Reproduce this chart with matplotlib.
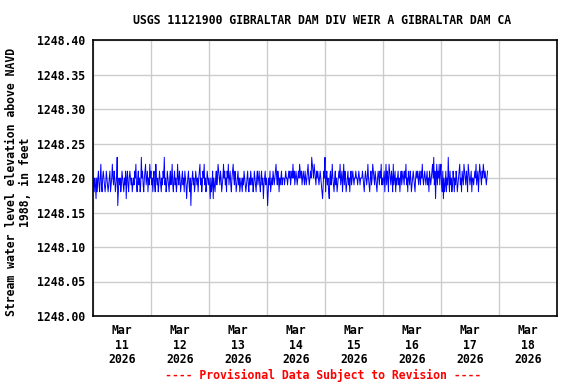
import numpy as np
import pandas as pd
import matplotlib
matplotlib.use('Agg')
import matplotlib.pyplot as plt

# gage height, hundredths of a foot above 1248.00, 15-minute values per day
mar11 = [20,19,18,20,19,17,20,18,20,21,19,18, 20,22,19,18,20,21,20,19,18,19,21,20,
         19,18,19,20,21,18,19,20,22,20,19,21, 20,18,19,20,23,16,18,20,19,20,18,19,
         21,20,19,18,20,19,21,17,20,21,19,18, 20,21,20,19,20,18,19,20,19,21,20,22,
         19,18,20,21,19,20,18,19,23,20,21,19, 18,20,21,22,19,20,21,18,20,19,22,20]
mar12 = [21,19,20,18,20,21,19,18,22,20,19,20, 18,19,21,20,19,18,20,19,21,20,23,19,
         20,18,19,21,20,19,18,20,21,19,20,22, 19,18,20,21,19,20,18,19,22,20,19,21,
         20,18,19,20,21,19,20,18,21,20,19,17, 19,20,21,19,18,20,16,19,20,21,19,20,
         18,19,21,20,19,20,18,20,21,22,19,20, 18,19,21,20,22,19,20,18,19,21,20,19]
mar13 = [20,19,17,20,18,19,21,17,20,19,18,20, 21,19,20,22,21,20,19,21,20,18,19,20,
         22,20,21,19,20,18,21,20,22,19,20,21, 19,18,20,21,22,20,19,21,20,18,19,20,
         21,19,20,18,19,20,19,18,20,19,21,20, 19,18,19,20,21,19,18,20,19,21,20,19,
         20,18,19,21,20,19,18,20,21,19,20,21, 19,18,20,21,19,20,17,19,20,21,19,20]
mar14 = [19,16,18,20,19,21,18,19,20,19,21,20, 19,20,21,22,20,19,21,20,18,20,19,20,
         21,19,20,20,20,19,20,21,20,20,19,20, 21,20,21,19,20,21,20,22,20,21,19,20,
         21,20,19,20,21,20,22,21,20,21,19,20, 21,20,19,21,20,19,20,21,22,20,19,20,
         21,20,23,22,21,20,22,21,20,19,21,20, 21,20,19,20,21,20,19,18,17,19,21,20]
mar15 = [23,18,20,21,19,20,18,17,20,21,19,20, 22,20,19,18,20,21,19,20,18,19,20,21,
         20,22,19,20,21,18,20,22,19,21,20,18, 19,20,21,19,20,18,20,21,19,20,21,20,
         19,20,20,21,20,20,19,20,21,20,19,20, 20,20,21,20,19,18,20,21,20,19,20,22,
         20,19,18,20,21,19,20,22,21,20,19,21, 20,19,18,20,21,20,19,21,20,22,19,20]
mar16 = [19,20,21,18,20,22,19,21,20,18,22,21, 20,19,21,20,18,22,19,20,21,18,20,19,
         20,21,19,20,18,20,21,19,20,21,20,19, 21,20,22,19,20,18,21,20,19,21,20,18,
         19,20,21,20,19,18,20,21,20,21,20,19, 21,20,19,21,20,22,20,19,20,21,20,19,
         20,21,19,20,18,21,20,19,20,21,22,20, 23,19,21,17,20,22,19,21,20,22,19,21]
mar17 = [22,19,18,21,17,20,18,19,21,18,20,19, 23,20,18,21,19,20,18,19,21,20,18,20,
         19,21,20,18,19,20,21,22,19,20,18,21, 20,19,22,21,20,19,21,20,18,22,21,20,
         19,20,21,18,20,20,19,20,21,20,22,19, 20,21,18,20,22,21,20,19,21,20,22,21,
         20,21,20,19,20,21]

day_labels = ['Mar\n11\n2026', 'Mar\n12\n2026', 'Mar\n13\n2026', 'Mar\n14\n2026',
              'Mar\n15\n2026', 'Mar\n16\n2026', 'Mar\n17\n2026', 'Mar\n18\n2026']

hundredths = mar11 + mar12 + mar13 + mar14 + mar15 + mar16 + mar17
level = 1248.0 + np.array(hundredths) / 100.0
times = pd.date_range('2026-03-11 00:00', periods=len(level), freq='15min')

mono = 'DejaVu Sans Mono'
fs = 8.3

fig = plt.figure(figsize=(5.76, 3.84), dpi=100)
ax = fig.add_axes([93 / 576, 68 / 384, 464 / 576, 276 / 384])

ax.plot(times, level, color='#0000ff', linewidth=0.7)

start = pd.Timestamp('2026-03-11')
ax.set_xlim(start, start + pd.Timedelta(days=8))
ax.set_ylim(1248.0, 1248.4)

ax.set_xticks(pd.date_range(start, periods=9, freq='D'))
ax.set_xticklabels([])
ax.set_xticks(pd.date_range(start + pd.Timedelta(hours=12), periods=8, freq='D'), minor=True)
ax.set_xticklabels(day_labels, minor=True, family=mono, fontsize=fs, fontweight='bold',
                   linespacing=1.15)
ax.tick_params(axis='x', which='both', length=0, pad=6)

yt = np.arange(1248.0, 1248.41, 0.05)
ax.set_yticks(yt)
ax.set_yticklabels(['%.2f' % v for v in yt], family=mono, fontsize=fs, fontweight='bold')
ax.tick_params(axis='y', length=0, pad=6)

ax.grid(True, which='major', color='#cccccc', linewidth=1)
ax.set_axisbelow(True)
for s in ax.spines.values():
    s.set_linewidth(1.2)

ax.set_ylabel('Stream water level elevation above NAVD\n1988, in feet', family=mono,
              fontsize=fs, fontweight='bold', linespacing=1.1)
ax.yaxis.set_label_coords(-0.132, 0.485)

fig.text(0.56, 1 - 20 / 384, 'USGS 11121900 GIBRALTAR DAM DIV WEIR A GIBRALTAR DAM CA',
         ha='center', va='center', family=mono, fontsize=fs, fontweight='bold')
fig.text(0.561, 1 - 375 / 384, '---- Provisional Data Subject to Revision ----',
         ha='center', va='center', family=mono, fontsize=fs, fontweight='bold', color='red')

plt.savefig('out.png', dpi=100)
